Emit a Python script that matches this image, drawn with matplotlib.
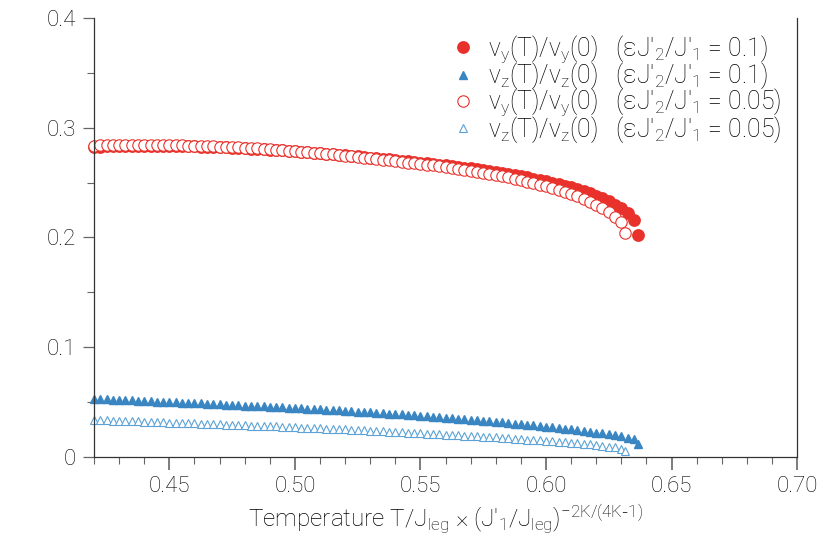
import matplotlib
matplotlib.use("Agg")
import matplotlib.pyplot as plt
from matplotlib.ticker import MultipleLocator

plt.rcParams['font.family'] = ['Roboto', 'DejaVu Sans']
plt.rcParams['font.weight'] = 'light'
plt.rcParams['axes.labelweight'] = 'light'
plt.rcParams['mathtext.default'] = 'regular'

# shared temperature grid (step 0.0025)
t_grid = [0.4200, 0.4225, 0.4250, 0.4275, 0.4300, 0.4325, 0.4350, 0.4375, 0.4400, 0.4425,
          0.4450, 0.4475, 0.4500, 0.4525, 0.4550, 0.4575, 0.4600, 0.4625, 0.4650, 0.4675,
          0.4700, 0.4725, 0.4750, 0.4775, 0.4800, 0.4825, 0.4850, 0.4875, 0.4900, 0.4925,
          0.4950, 0.4975, 0.5000, 0.5025, 0.5050, 0.5075, 0.5100, 0.5125, 0.5150, 0.5175,
          0.5200, 0.5225, 0.5250, 0.5275, 0.5300, 0.5325, 0.5350, 0.5375, 0.5400, 0.5425,
          0.5450, 0.5475, 0.5500, 0.5525, 0.5550, 0.5575, 0.5600, 0.5625, 0.5650, 0.5675,
          0.5700, 0.5725, 0.5750, 0.5775, 0.5800, 0.5825, 0.5850, 0.5875, 0.5900, 0.5925,
          0.5950, 0.5975, 0.6000, 0.6025, 0.6050, 0.6075, 0.6100, 0.6125, 0.6150, 0.6175,
          0.6200, 0.6225, 0.6250, 0.6275, 0.6300, 0.6325, 0.6350]

t_01 = t_grid + [0.6365]
t_005 = t_grid[:85] + [0.6315]

vy_01 = [0.2828, 0.2829, 0.2831, 0.2832, 0.2833, 0.2834, 0.2834, 0.2835, 0.2835, 0.2835,
         0.2835, 0.2834, 0.2834, 0.2833, 0.2832, 0.2831, 0.2830, 0.2828, 0.2827, 0.2825,
         0.2823, 0.2821, 0.2818, 0.2816, 0.2813, 0.2810, 0.2807, 0.2803, 0.2800, 0.2796,
         0.2793, 0.2789, 0.2785, 0.2781, 0.2777, 0.2772, 0.2768, 0.2763, 0.2759, 0.2754,
         0.2749, 0.2744, 0.2739, 0.2733, 0.2728, 0.2722, 0.2717, 0.2711, 0.2705, 0.2699,
         0.2693, 0.2688, 0.2682, 0.2676, 0.2670, 0.2664, 0.2657, 0.2650, 0.2643, 0.2636,
         0.2629, 0.2621, 0.2613, 0.2605, 0.2597, 0.2588, 0.2578, 0.2568, 0.2558, 0.2547,
         0.2536, 0.2524, 0.2512, 0.2499, 0.2486, 0.2471, 0.2456, 0.2439, 0.2421, 0.2401,
         0.2380, 0.2356, 0.2330, 0.2300, 0.2265, 0.2222, 0.2160, 0.2023]

vz_01 = [0.0528, 0.0526, 0.0524, 0.0521, 0.0519, 0.0517, 0.0515, 0.0512, 0.0510, 0.0508,
         0.0505, 0.0503, 0.0500, 0.0498, 0.0495, 0.0493, 0.0490, 0.0488, 0.0485, 0.0483,
         0.0480, 0.0477, 0.0475, 0.0472, 0.0469, 0.0466, 0.0464, 0.0461, 0.0458, 0.0455,
         0.0452, 0.0449, 0.0446, 0.0443, 0.0440, 0.0437, 0.0434, 0.0431, 0.0428, 0.0424,
         0.0421, 0.0418, 0.0414, 0.0411, 0.0407, 0.0403, 0.0400, 0.0396, 0.0392, 0.0388,
         0.0384, 0.0380, 0.0376, 0.0372, 0.0368, 0.0363, 0.0359, 0.0355, 0.0350, 0.0346,
         0.0341, 0.0336, 0.0332, 0.0327, 0.0322, 0.0316, 0.0311, 0.0305, 0.0300, 0.0295,
         0.0288, 0.0283, 0.0276, 0.0270, 0.0264, 0.0258, 0.0251, 0.0245, 0.0238, 0.0231,
         0.0223, 0.0215, 0.0206, 0.0197, 0.0187, 0.0175, 0.0160, 0.0123]

vy_005 = [0.2838, 0.2839, 0.2841, 0.2842, 0.2843, 0.2843, 0.2843, 0.2844, 0.2844, 0.2844,
          0.2843, 0.2842, 0.2842, 0.2841, 0.2840, 0.2838, 0.2837, 0.2835, 0.2833, 0.2831,
          0.2829, 0.2826, 0.2823, 0.2821, 0.2818, 0.2814, 0.2811, 0.2807, 0.2803, 0.2799,
          0.2795, 0.2791, 0.2786, 0.2781, 0.2777, 0.2772, 0.2767, 0.2762, 0.2757, 0.2751,
          0.2746, 0.2740, 0.2734, 0.2728, 0.2722, 0.2716, 0.2710, 0.2703, 0.2697, 0.2690,
          0.2683, 0.2677, 0.2670, 0.2663, 0.2656, 0.2648, 0.2641, 0.2633, 0.2625, 0.2616,
          0.2608, 0.2599, 0.2589, 0.2579, 0.2569, 0.2558, 0.2547, 0.2535, 0.2523, 0.2510,
          0.2496, 0.2482, 0.2467, 0.2451, 0.2434, 0.2416, 0.2396, 0.2375, 0.2352, 0.2327,
          0.2299, 0.2268, 0.2232, 0.2190, 0.2138, 0.2045]

vz_005 = [0.0337, 0.0335, 0.0333, 0.0332, 0.0330, 0.0328, 0.0326, 0.0324, 0.0322, 0.0320,
          0.0318, 0.0316, 0.0314, 0.0312, 0.0310, 0.0308, 0.0306, 0.0304, 0.0302, 0.0300,
          0.0298, 0.0296, 0.0293, 0.0291, 0.0289, 0.0287, 0.0284, 0.0282, 0.0280, 0.0278,
          0.0275, 0.0273, 0.0271, 0.0268, 0.0266, 0.0263, 0.0261, 0.0258, 0.0256, 0.0253,
          0.0251, 0.0248, 0.0245, 0.0243, 0.0240, 0.0237, 0.0234, 0.0232, 0.0229, 0.0226,
          0.0223, 0.0220, 0.0217, 0.0214, 0.0211, 0.0208, 0.0205, 0.0202, 0.0199, 0.0195,
          0.0192, 0.0189, 0.0185, 0.0182, 0.0178, 0.0174, 0.0171, 0.0167, 0.0163, 0.0159,
          0.0155, 0.0151, 0.0147, 0.0143, 0.0138, 0.0134, 0.0129, 0.0124, 0.0119, 0.0114,
          0.0108, 0.0102, 0.0095, 0.0087, 0.0077, 0.0052]

labels = [r"v$_y$(T)/v$_y$(0)   ($\epsilon$J'$_2$/J'$_1$ = 0.1)",
          r"v$_z$(T)/v$_z$(0)   ($\epsilon$J'$_2$/J'$_1$ = 0.1)",
          r"v$_y$(T)/v$_y$(0)   ($\epsilon$J'$_2$/J'$_1$ = 0.05)",
          r"v$_z$(T)/v$_z$(0)   ($\epsilon$J'$_2$/J'$_1$ = 0.05)"]

red = '#E8312B'
blue = '#3A86C2'
lblue = '#5CA2D6'
ink = '#000000'

fig = plt.figure(figsize=(8.3, 5.4), dpi=100)
ax = fig.add_axes([0.1133, 0.1537, 0.8470, 0.8130])

h1, = ax.plot(t_01, vy_01, 'o', ms=8.2, color=red, mec=red, ls='none', clip_on=False)
h2, = ax.plot(t_01, vz_01, '^', ms=6, color=blue, mec=blue, ls='none', clip_on=False)
h3, = ax.plot(t_005, vy_005, 'o', ms=8.2, mfc='white', mec=red, mew=0.8, ls='none', clip_on=False)
h4, = ax.plot(t_005, vz_005, '^', ms=6.2, mfc='white', mec=lblue, mew=0.8, ls='none', clip_on=False)

ax.set_xlim(0.42, 0.70)
ax.set_ylim(0, 0.4)
ax.set_xticks([0.45, 0.50, 0.55, 0.60, 0.65, 0.70])
ax.set_xticklabels(['0.45', '0.50', '0.55', '0.60', '0.65', '0.70'])
ax.set_yticks([0, 0.1, 0.2, 0.3, 0.4])
ax.set_yticklabels(['0', '0.1', '0.2', '0.3', '0.4'])
ax.xaxis.set_minor_locator(MultipleLocator(0.01))
ax.yaxis.set_minor_locator(MultipleLocator(0.05))

ax.spines['top'].set_visible(False)
for s in ['left', 'bottom', 'right']:
    ax.spines[s].set_color('#333333')
    ax.spines[s].set_linewidth(0.9)

ax.tick_params(axis='both', which='major', direction='out', labelsize=16,
               color='#666666', pad=5)
ax.tick_params(axis='both', which='major', labelcolor=ink)
ax.tick_params(axis='x', which='major', length=9, width=1.2)
ax.tick_params(axis='y', which='major', length=8, width=0.9)
ax.tick_params(axis='both', which='minor', direction='out', length=5, width=0.8,
               color='#666666')

ax.set_xlabel(r"Temperature T/J$_{leg}$ × (J'$_1$/J$_{leg}$)$^{-2K/(4K\text{-}1)}$",
              fontsize=17.5, fontweight='light', color=ink, labelpad=3)

ax.legend([h1, h2, h3, h4], labels, loc='upper left', bbox_to_anchor=(0.49, 0.993),
          frameon=False, fontsize=17.8, borderpad=0, handlelength=1.0,
          handletextpad=0.5, labelspacing=-0.19, labelcolor=ink)

fig.savefig('out.png', dpi=100)
